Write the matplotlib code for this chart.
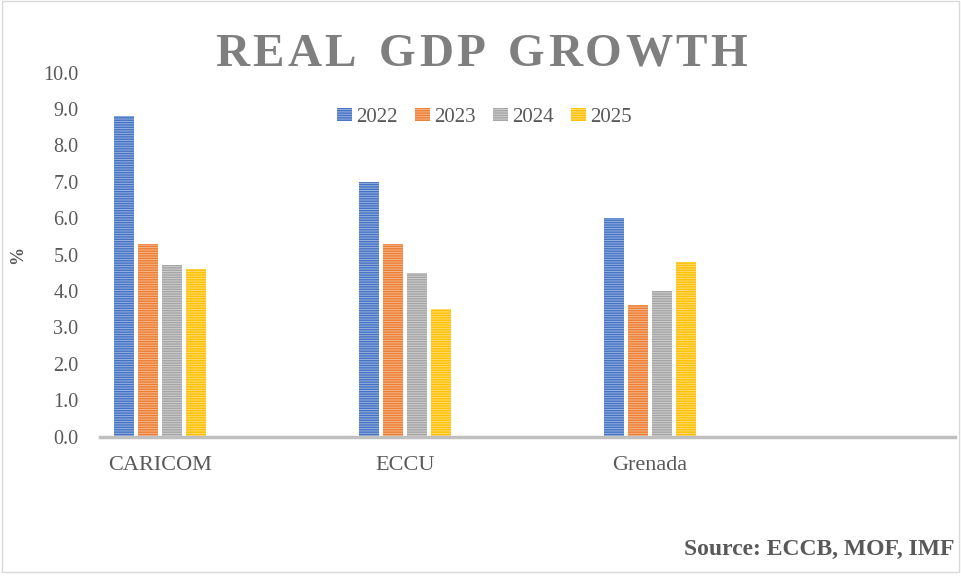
import numpy as np
import matplotlib
matplotlib.use("Agg")
from matplotlib import pyplot as plt
from matplotlib.colors import to_rgb
from matplotlib.patches import Rectangle

regions = ["CARICOM", "ECCU", "Grenada"]
years   = ["2022", "2023", "2024", "2025"]
growth_2022 = [8.8, 7.0, 6.0]
growth_2023 = [5.3, 5.3, 3.6]
growth_2024 = [4.7, 4.5, 4.0]
growth_2025 = [4.6, 3.5, 4.8]

colors = ["#4472C4", "#ED7D31", "#A5A5A5", "#FFC000"]
txt_gray = "#595959"

plt.rcParams["font.family"] = ["Liberation Serif", "DejaVu Serif"]
plt.rcParams["hatch.linewidth"] = 1.0


def lighten(c, f):
    r, g, b = to_rgb(c)
    return (r + (1 - r) * f, g + (1 - g) * f, b + (1 - b) * f)


W, H = 961, 577
fig = plt.figure(figsize=(W / 100, H / 100), dpi=100)
ax = fig.add_axes([0.104, 0.2435, 0.89, 0.6308])

series = [growth_2022, growth_2023, growth_2024, growth_2025]
x = np.arange(len(regions))
step = 0.098
w = 0.082
for i, (vals, c) in enumerate(zip(series, colors)):
    plt.bar(x + (i - 1.5) * step, vals, width=w, color=lighten(c, 0.45),
            edgecolor=c, hatch="-------", linewidth=0, label=years[i], zorder=2)

ax.set_xlim(-0.245, 3.245)
ax.set_ylim(0, 10)
ax.set_yticks(np.arange(0, 10.5, 1))
ax.set_yticklabels([f"{v:.1f}" for v in np.arange(0, 10.5, 1)])
ax.set_xticks(x)
ax.set_xticklabels(regions)
ax.tick_params(axis="both", length=0, labelcolor=txt_gray)
ax.tick_params(axis="y", pad=15.5, labelsize=14.5)
ax.tick_params(axis="x", pad=14, labelsize=16)

for s in ["top", "right", "left"]:
    ax.spines[s].set_visible(False)
ax.spines["bottom"].set_color("#BFBFBF")
ax.spines["bottom"].set_linewidth(2.5)
ax.spines["bottom"].set_zorder(3)

ax.set_ylabel("%", fontsize=13, fontweight="bold", color=txt_gray, labelpad=12)

leg = fig.legend(loc="center", bbox_to_anchor=(0.504, 0.797), ncol=4, frameon=False,
                 fontsize=15, handlelength=0.75, handleheight=0.6, handletextpad=0.2,
                 columnspacing=0.8)
for t in leg.get_texts():
    t.set_color(txt_gray)

# spaced-out title, one letter at a time
title = "REAL GDP GROWTH"
tracking = 3.2
renderer = fig.canvas.get_renderer()
widths = []
for ch in title:
    t = fig.text(0, 0, ch if ch != " " else "I", fontsize=34, fontweight="bold")
    wpx = t.get_window_extent(renderer).width
    if ch == " ":
        wpx *= 0.9
    widths.append(wpx)
    t.remove()
total = sum(widths) + tracking * (len(title) - 1)
xpos = 481 - total / 2
for ch, wpx in zip(title, widths):
    if ch != " ":
        fig.text(xpos / W, 1 - 66 / H, ch, ha="left", va="baseline", fontsize=34,
                 fontweight="bold", color="#7F7F7F")
    xpos += wpx + tracking

fig.text(0.993, 1 - 549 / H, "Source: ECCB, MOF, IMF", ha="right", va="center",
         fontsize=17, fontweight="bold", color=txt_gray)

fig.patches.append(Rectangle((0.002, 0.008), 0.996, 0.99, transform=fig.transFigure,
                             fill=False, edgecolor="#D9D9D9", linewidth=1))

plt.savefig("out.png", dpi=100)
